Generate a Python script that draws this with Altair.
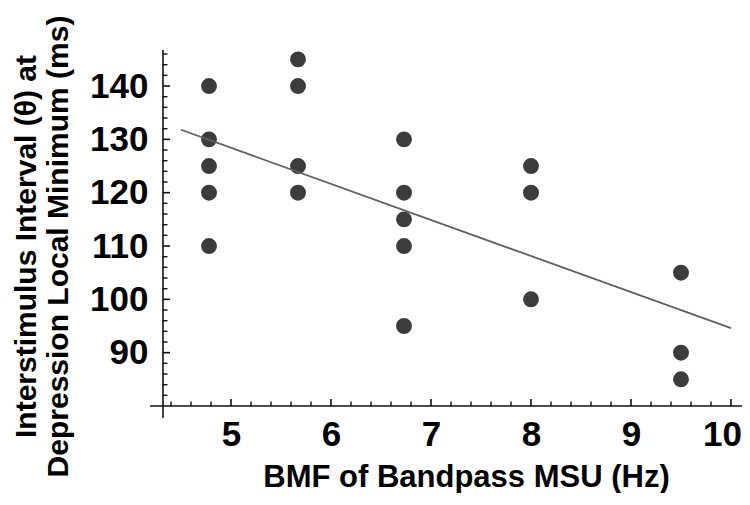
import altair as alt
import pandas as pd

# Data
bmf = [4.78, 4.78, 4.78, 4.78, 4.78,
       5.67, 5.67, 5.67, 5.67,
       6.73, 6.73, 6.73, 6.73, 6.73,
       8.0, 8.0, 8.0,
       9.5, 9.5, 9.5]
isi = [140, 130, 125, 120, 110,
       145, 140, 125, 120,
       130, 120, 115, 110, 95,
       125, 120, 100,
       105, 90, 85]
fit_x = [4.5, 10.0]
fit_y = [131.8, 94.6]

x_major = [5, 6, 7, 8, 9, 10]
x_minor = [4.4, 4.6, 4.8, 5.2, 5.4, 5.6, 5.8, 6.2, 6.4, 6.6, 6.8, 7.2, 7.4, 7.6, 7.8,
           8.2, 8.4, 8.6, 8.8, 9.2, 9.4, 9.6, 9.8]
y_major = [90, 100, 110, 120, 130, 140]
y_minor = [82, 84, 86, 88, 92, 94, 96, 98, 102, 104, 106, 108, 112, 114, 116, 118,
           122, 124, 126, 128, 132, 134, 136, 138, 142, 144, 146]

x_title = "BMF of Bandpass MSU (Hz)"
y_title = ["Interstimulus Interval (\u03b8) at", "Depression Local Minimum (ms)"]

W, H = 579, 358
FONT = "Liberation Sans"
xs = alt.Scale(domain=[4.32, 10.11], nice=False, zero=False)
ys = alt.Scale(domain=[80, 147.13], nice=False, zero=False)

x_axis = alt.Axis(
    values=x_major, format="d", ticks=False, tickSize=0, domain=False, grid=False,
    labelFont=FONT, labelFontSize=35, labelFontWeight="bold", labelColor="black",
    labelPadding=28, labelBaseline="middle", labelFlush=False,
    labelOffset={"condition": {"test": "datum.value == 10", "value": -9}, "value": 0},
    title=x_title, titleFont=FONT, titleFontSize=31, titleFontWeight="bold",
    titleColor="black", titleX=303, titleY=80, titleAlign="center",
    titleBaseline="alphabetic")
y_axis = alt.Axis(
    values=y_major, format="d", ticks=False, tickSize=0, domain=False, grid=False,
    labelFont=FONT, labelFontSize=35, labelFontWeight="bold", labelColor="black",
    labelPadding=15, labelBaseline="middle", labelAlign="right", labelFlush=False,
    title=y_title, titleFont=FONT, titleFontSize=30, titleFontWeight="bold",
    titleColor="black", titleAngle=270, titleX=-128, titleY=198,
    titleAlign="center", titleBaseline="alphabetic", titleLineHeight=32)

X = alt.X("x:Q", scale=xs, axis=x_axis)
Y = alt.Y("y:Q", scale=ys, axis=y_axis)

pts = pd.DataFrame({"x": bmf, "y": isi})
fit = pd.DataFrame({"x": fit_x, "y": fit_y})

points = alt.Chart(pts).mark_circle(size=254, color="#3c3c3c", opacity=1).encode(x=X, y=Y)
line = alt.Chart(fit).mark_line(color="#606060", strokeWidth=1.8).encode(x=X, y=Y)

one = pd.DataFrame({"a": [0]})
x_axis_line = alt.Chart(one).mark_rule(color="#111111", strokeWidth=1.6).encode(
    x=alt.value(-13), x2=alt.value(W), y=alt.value(H))
y_axis_line = alt.Chart(one).mark_rule(color="#111111", strokeWidth=1.6).encode(
    x=alt.value(0), y=alt.value(2), y2=alt.value(H + 12))

xmaj = alt.Chart(pd.DataFrame({"x": x_major})).mark_rule(color="#111111", strokeWidth=1.6).encode(
    x=X, y=alt.value(H), y2=alt.value(H - 7))
xmin = alt.Chart(pd.DataFrame({"x": x_minor})).mark_rule(color="#111111", strokeWidth=1.4).encode(
    x=X, y=alt.value(H), y2=alt.value(H - 4.5))
ymaj = alt.Chart(pd.DataFrame({"y": y_major})).mark_rule(color="#111111", strokeWidth=1.6).encode(
    y=Y, x=alt.value(0), x2=alt.value(7))
ymin = alt.Chart(pd.DataFrame({"y": y_minor})).mark_rule(color="#111111", strokeWidth=1.4).encode(
    y=Y, x=alt.value(0), x2=alt.value(4.5))

chart = alt.layer(points, xmin, xmaj, ymin, ymaj, x_axis_line, y_axis_line, line).properties(
    width=W, height=H,
    padding={"left": 155, "top": 40, "right": 0, "bottom": 87},
    autosize=alt.AutoSizeParams(type="none"),
).configure_view(stroke=None)

chart.save("out.html", embed_options={"renderer": "svg", "actions": False})
